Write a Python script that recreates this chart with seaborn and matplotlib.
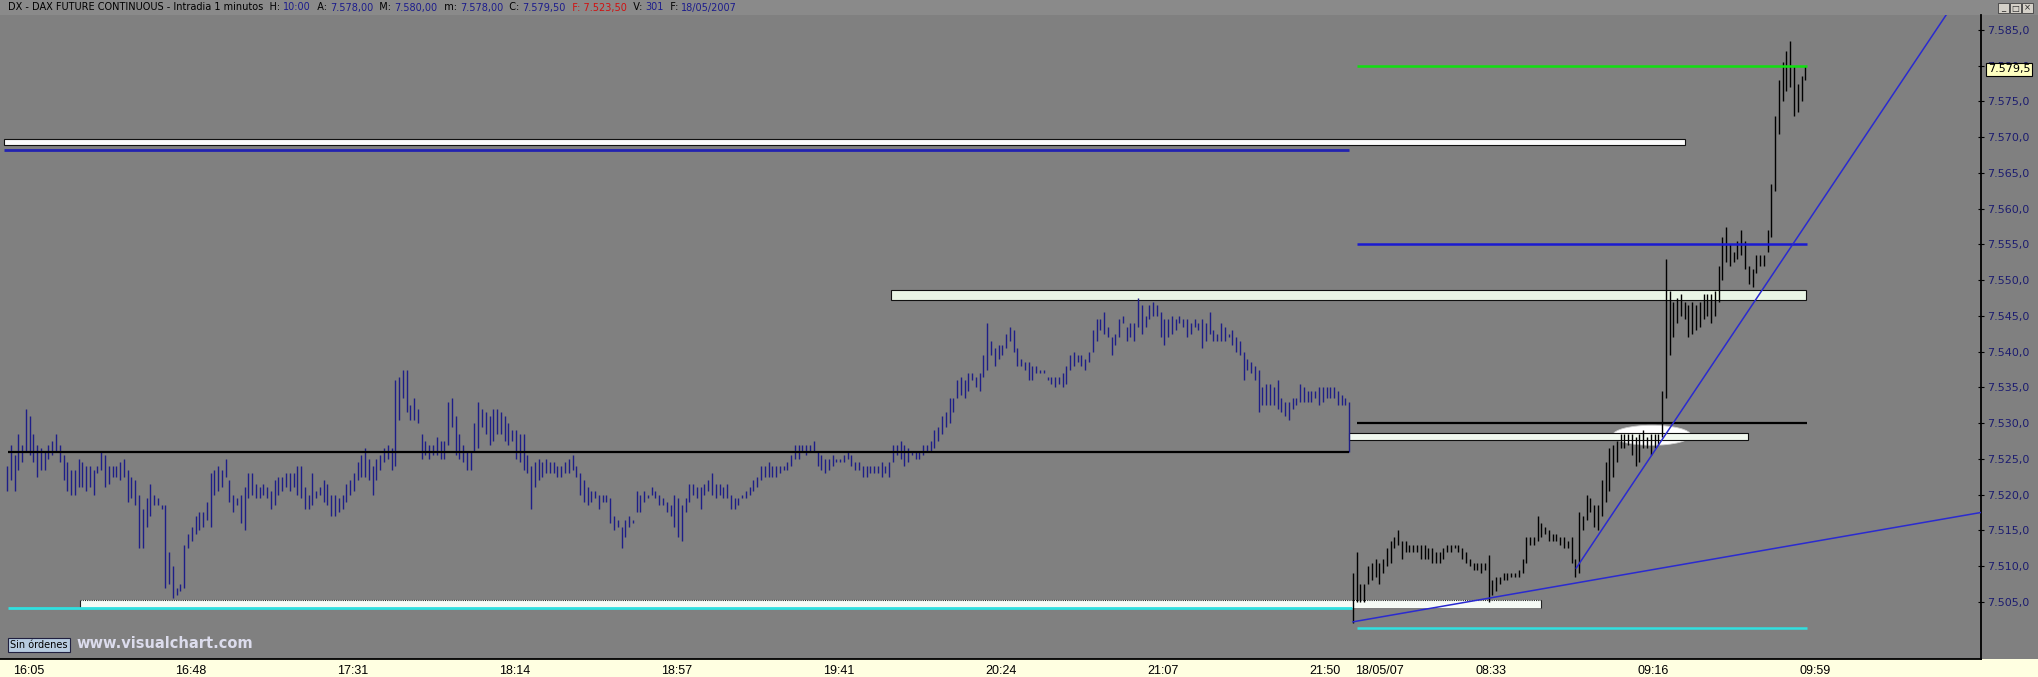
"""
DAX future 1-minute chart (Visual Chart screenshot style)
"""
import matplotlib
matplotlib.use('Agg')
import matplotlib.pyplot as plt
import matplotlib.transforms as mtransforms
from matplotlib.patches import Rectangle, Ellipse
import pandas as pd
import seaborn as sns

# ---- data ----
# session 1 (16:04 - 22:00), one bar per minute
s1_high = [
    7524.0, 7527.0, 7525.5, 7528.5, 7527.0, 7532.0, 7531.0, 7528.5, 7527.0, 7526.5,
    7526.0, 7527.0, 7527.5, 7528.5, 7527.0, 7525.5, 7524.5, 7523.5, 7523.5, 7525.0,
    7524.5, 7524.0, 7524.0, 7523.5, 7524.0, 7526.0, 7525.5, 7524.0, 7524.0, 7524.0,
    7524.5, 7525.0, 7523.5, 7522.5, 7522.0, 7520.0, 7518.0, 7519.5, 7521.5, 7520.0,
    7519.5, 7518.5, 7518.5, 7512.0, 7510.0, 7507.0, 7507.5, 7513.0, 7514.5, 7515.5,
    7517.0, 7517.5, 7517.5, 7519.0, 7523.0, 7523.5, 7524.0, 7523.5, 7525.0, 7522.0,
    7520.0, 7519.5, 7520.0, 7521.0, 7523.0, 7523.0, 7521.5, 7521.0, 7521.5, 7521.0,
    7520.5, 7522.0, 7522.5, 7522.5, 7523.0, 7523.0, 7523.0, 7524.0, 7524.0, 7521.0,
    7520.0, 7523.0, 7520.5, 7521.0, 7522.0, 7521.5, 7520.0, 7520.0, 7519.5, 7520.0,
    7521.5, 7522.0, 7523.0, 7524.5, 7525.5, 7526.5, 7525.0, 7524.0, 7525.0, 7525.5,
    7526.5, 7527.0, 7526.5, 7536.0, 7536.5, 7537.5, 7537.5, 7532.5, 7533.5, 7532.0,
    7528.5, 7527.5, 7527.0, 7527.0, 7528.0, 7527.5, 7527.5, 7533.0, 7533.5, 7531.0,
    7528.5, 7527.0, 7526.0, 7526.0, 7530.0, 7533.0, 7532.0, 7531.5, 7531.0, 7532.0,
    7532.0, 7531.5, 7531.0, 7530.0, 7529.0, 7529.0, 7528.5, 7528.5, 7525.5, 7524.0,
    7524.5, 7525.0, 7524.5, 7525.0, 7524.5, 7524.5, 7524.0, 7524.0, 7524.5, 7525.0,
    7525.5, 7524.0, 7523.0, 7522.0, 7521.0, 7520.5, 7520.5, 7520.0, 7520.0, 7520.0,
    7519.5, 7517.0, 7516.5, 7515.5, 7516.5, 7517.0, 7516.5, 7520.5, 7520.0, 7520.5,
    7520.0, 7521.0, 7520.5, 7520.0, 7519.5, 7519.0, 7518.5, 7520.0, 7519.5, 7518.5,
    7519.5, 7521.5, 7521.5, 7521.0, 7521.0, 7521.5, 7522.0, 7523.0, 7521.5, 7521.5,
    7521.0, 7521.5, 7520.0, 7519.5, 7519.5, 7520.0, 7520.5, 7521.0, 7522.0, 7522.5,
    7524.0, 7524.0, 7524.5, 7524.0, 7524.0, 7524.0, 7524.0, 7524.5, 7525.5, 7527.0,
    7527.0, 7527.0, 7527.0, 7527.0, 7527.5, 7526.0, 7525.5, 7525.0, 7525.0, 7525.5,
    7525.0, 7525.0, 7525.5, 7526.0, 7525.5, 7524.5, 7524.5, 7524.0, 7524.0, 7524.0,
    7524.0, 7524.0, 7524.5, 7524.0, 7524.5, 7527.0, 7527.0, 7527.5, 7527.0, 7526.5,
    7526.0, 7526.0, 7526.0, 7527.0, 7527.0, 7527.5, 7529.0, 7529.5, 7531.0, 7531.5,
    7533.5, 7533.5, 7536.0, 7536.5, 7536.0, 7537.0, 7537.0, 7536.5, 7537.0, 7539.5,
    7544.0, 7541.5, 7540.5, 7541.0, 7541.0, 7542.5, 7543.5, 7543.0, 7540.5, 7539.0,
    7538.5, 7538.5, 7538.0, 7538.0, 7537.5, 7537.5, 7536.5, 7536.5, 7536.5, 7536.5,
    7537.0, 7538.0, 7539.5, 7540.0, 7539.5, 7539.5, 7539.0, 7540.0, 7543.0, 7544.5,
    7544.5, 7545.5, 7543.5, 7542.0, 7542.5, 7544.5, 7545.0, 7543.5, 7544.0, 7544.0,
    7547.5, 7546.5, 7545.0, 7546.5, 7547.0, 7546.5, 7545.5, 7544.5, 7544.5, 7545.0,
    7544.5, 7545.0, 7544.5, 7544.5, 7544.0, 7544.5, 7544.0, 7544.5, 7544.0, 7545.5,
    7543.0, 7542.5, 7544.0, 7543.5, 7542.5, 7543.0, 7542.0, 7541.5, 7540.0, 7539.0,
    7538.5, 7538.0, 7537.5, 7535.0, 7535.5, 7535.5, 7535.0, 7536.0, 7533.5, 7533.0,
    7533.0, 7533.5, 7533.5, 7535.5, 7535.0, 7534.5, 7534.5, 7534.5, 7535.0, 7535.0,
    7535.0, 7535.0, 7535.0, 7534.5, 7534.0, 7533.5, 7533.0,
]
s1_low = [
    7520.5, 7522.0, 7520.5, 7523.5, 7524.5, 7526.0, 7525.5, 7524.5, 7522.5, 7523.5,
    7523.5, 7525.0, 7525.5, 7526.0, 7524.5, 7522.0, 7520.5, 7520.0, 7520.0, 7521.0,
    7521.0, 7520.5, 7521.0, 7520.0, 7523.0, 7523.5, 7521.0, 7521.5, 7522.5, 7522.5,
    7522.0, 7522.5, 7519.0, 7519.5, 7518.5, 7512.5, 7512.5, 7515.5, 7517.0, 7518.5,
    7518.5, 7518.0, 7507.0, 7507.5, 7505.5, 7506.0, 7506.5, 7507.0, 7512.5, 7513.5,
    7514.5, 7515.0, 7515.5, 7516.5, 7515.5, 7520.0, 7520.5, 7521.0, 7522.5, 7519.0,
    7517.5, 7518.5, 7516.0, 7515.0, 7519.5, 7520.0, 7519.5, 7519.5, 7520.0, 7519.5,
    7518.0, 7518.5, 7520.0, 7520.5, 7521.0, 7520.5, 7521.0, 7520.0, 7519.5, 7518.0,
    7518.0, 7518.5, 7519.5, 7520.0, 7519.0, 7518.5, 7517.0, 7517.0, 7517.5, 7518.0,
    7519.0, 7520.0, 7520.5, 7522.0, 7522.5, 7522.5, 7522.0, 7520.0, 7522.0, 7523.5,
    7524.5, 7525.0, 7523.5, 7524.0, 7530.5, 7533.5, 7531.5, 7530.5, 7530.5, 7530.0,
    7525.0, 7525.5, 7525.0, 7525.5, 7525.5, 7525.0, 7525.0, 7527.0, 7529.5, 7525.5,
    7525.0, 7524.5, 7523.5, 7523.5, 7526.0, 7526.5, 7529.5, 7528.5, 7527.0, 7527.5,
    7528.5, 7528.5, 7527.5, 7527.0, 7527.5, 7525.0, 7524.5, 7523.5, 7523.0, 7518.0,
    7521.0, 7522.0, 7522.5, 7523.0, 7523.0, 7523.0, 7522.5, 7522.5, 7523.0, 7523.0,
    7523.5, 7522.5, 7520.0, 7519.0, 7518.5, 7519.0, 7519.5, 7518.0, 7519.0, 7519.0,
    7516.0, 7515.0, 7515.5, 7512.5, 7514.0, 7515.5, 7516.0, 7517.5, 7517.5, 7519.0,
    7519.5, 7520.0, 7519.5, 7518.5, 7518.5, 7517.5, 7517.0, 7515.5, 7514.0, 7513.5,
    7517.5, 7519.0, 7520.0, 7519.5, 7518.0, 7520.0, 7520.5, 7520.0, 7519.5, 7520.0,
    7519.5, 7519.5, 7518.0, 7518.0, 7518.5, 7519.5, 7519.5, 7520.0, 7520.5, 7521.0,
    7522.0, 7522.5, 7522.5, 7522.5, 7522.5, 7523.0, 7523.5, 7523.5, 7524.0, 7525.0,
    7525.0, 7526.0, 7525.5, 7526.0, 7526.0, 7524.0, 7523.5, 7523.0, 7523.5, 7524.0,
    7524.5, 7524.5, 7524.5, 7525.0, 7524.0, 7523.5, 7523.5, 7522.5, 7522.5, 7523.0,
    7523.0, 7523.0, 7522.5, 7523.0, 7522.5, 7524.5, 7525.5, 7525.0, 7524.0, 7524.5,
    7525.5, 7525.0, 7525.0, 7525.5, 7526.0, 7526.0, 7526.5, 7527.5, 7528.5, 7529.5,
    7530.0, 7531.5, 7533.5, 7534.0, 7533.5, 7534.5, 7536.0, 7535.0, 7534.5, 7536.5,
    7537.5, 7539.5, 7538.0, 7539.0, 7539.5, 7540.5, 7541.5, 7540.0, 7538.0, 7538.0,
    7537.5, 7536.0, 7536.0, 7537.0, 7537.0, 7537.0, 7536.0, 7535.5, 7535.0, 7535.5,
    7535.0, 7535.5, 7537.5, 7538.0, 7538.5, 7538.0, 7537.5, 7538.5, 7540.0, 7541.5,
    7543.0, 7542.5, 7542.0, 7539.5, 7541.0, 7542.0, 7544.0, 7541.5, 7542.0, 7541.5,
    7543.5, 7542.5, 7543.5, 7544.5, 7545.0, 7545.0, 7542.0, 7541.0, 7542.0, 7542.5,
    7543.0, 7544.0, 7543.5, 7542.0, 7542.5, 7543.5, 7543.0, 7540.5, 7541.5, 7542.5,
    7541.5, 7541.5, 7541.5, 7541.5, 7542.0, 7541.0, 7540.0, 7539.5, 7536.0, 7537.5,
    7537.0, 7536.0, 7531.5, 7532.5, 7532.5, 7532.5, 7532.5, 7532.0, 7531.5, 7531.0,
    7530.5, 7532.0, 7532.5, 7533.0, 7533.0, 7533.0, 7533.0, 7533.5, 7532.5, 7533.0,
    7533.5, 7533.5, 7533.5, 7532.5, 7532.5, 7532.5, 7526.0,
]
# session 2 (18/05/07, 08:00 - 10:00)
s2_high = [
    7509.0, 7512.0, 7507.5, 7507.5, 7510.0, 7510.5, 7511.0, 7510.5, 7511.0, 7512.5,
    7513.5, 7514.0, 7515.0, 7513.5, 7513.5, 7513.0, 7513.0, 7513.0, 7513.0, 7513.0,
    7512.5, 7512.5, 7512.0, 7512.0, 7512.5, 7513.0, 7513.0, 7513.0, 7513.0, 7512.5,
    7512.0, 7511.0, 7510.5, 7510.5, 7510.5, 7510.5, 7511.5, 7508.0, 7508.5, 7508.5,
    7509.0, 7509.0, 7509.0, 7509.0, 7509.5, 7511.0, 7514.0, 7514.0, 7514.0, 7517.0,
    7516.0, 7515.5, 7515.0, 7514.5, 7514.5, 7514.0, 7514.0, 7513.5, 7514.0, 7511.0,
    7517.5, 7517.0, 7520.0, 7519.5, 7518.5, 7518.5, 7522.0, 7524.5, 7526.5, 7527.0,
    7527.5, 7528.5, 7528.5, 7528.5, 7528.5, 7528.0, 7528.5, 7529.0, 7528.0, 7528.5,
    7528.5, 7528.5, 7534.5, 7553.0, 7548.5, 7547.0, 7547.5, 7548.0, 7547.0, 7546.5,
    7547.0, 7546.5, 7547.0, 7548.0, 7548.0, 7548.0, 7548.5, 7552.0, 7556.0, 7557.5,
    7555.0, 7554.0, 7555.5, 7557.0, 7555.5, 7552.0, 7551.5, 7553.5, 7553.5, 7553.5,
    7557.0, 7563.5, 7573.0, 7578.0, 7580.5, 7582.0, 7583.5, 7580.0, 7577.5, 7578.5,
    7580.0,
]
s2_low = [
    7502.0, 7505.0, 7505.0, 7505.0, 7507.5, 7508.0, 7508.5, 7507.5, 7509.0, 7510.0,
    7510.5, 7512.5, 7513.0, 7511.0, 7512.0, 7512.0, 7512.0, 7512.0, 7511.0, 7511.0,
    7511.0, 7510.5, 7510.5, 7510.5, 7511.0, 7512.0, 7512.0, 7512.5, 7512.0, 7511.0,
    7510.5, 7510.0, 7509.5, 7509.5, 7509.0, 7509.5, 7505.0, 7506.0, 7506.5, 7507.5,
    7508.0, 7508.0, 7508.5, 7508.5, 7508.5, 7509.0, 7510.5, 7513.0, 7513.0, 7513.5,
    7514.0, 7514.5, 7513.5, 7513.5, 7513.5, 7513.0, 7512.5, 7512.5, 7510.5, 7508.5,
    7509.0, 7515.0, 7516.5, 7517.5, 7515.5, 7515.0, 7517.0, 7519.0, 7520.5, 7522.5,
    7524.5, 7526.5, 7526.5, 7527.0, 7525.5, 7524.0, 7524.5, 7526.5, 7526.5, 7525.5,
    7526.5, 7527.0, 7528.0, 7533.5, 7539.5, 7542.0, 7544.0, 7545.0, 7544.5, 7542.0,
    7542.5, 7543.0, 7543.5, 7544.5, 7545.0, 7544.0, 7545.0, 7547.0, 7550.0, 7552.5,
    7552.0, 7552.5, 7553.0, 7553.5, 7551.5, 7549.5, 7549.0, 7551.0, 7552.0, 7552.0,
    7554.0, 7556.0, 7562.5, 7570.5, 7575.0, 7576.5, 7577.0, 7573.0, 7573.5, 7575.0,
    7578.0,
]

# time axis (bar index -> label)
tick_pos = [1, 44, 87, 130, 173, 216, 259, 302, 345, 357, 389, 432, 475, 518]
tick_labels = ['16:05', '16:48', '17:31', '18:14', '18:57', '19:41', '20:24',
               '21:07', '21:50', '18/05/07', '08:33', '09:16', '09:59', '']
price_ticks = [7505, 7510, 7515, 7520, 7525, 7530, 7535, 7540, 7545,
               7550, 7555, 7560, 7565, 7570, 7575, 7580, 7585]
last_price = 7579.5

# drawn support / resistance levels: price, first bar, last bar
level_price = [7568.2, 7526.0, 7504.1, 7580.0, 7555.0, 7530.0, 7501.4]
level_from = [-0.8, 0.3, 0.3, 358.1, 358.1, 358.1, 358.1]
level_to = [356.0, 356.0, 356.8, 477.5, 477.5, 477.5, 477.5]

# drawn zones (rectangles): low, high, first bar, last bar
zone_low = [7568.9, 7547.2, 7527.6, 7504.2]
zone_high = [7569.7, 7548.6, 7528.6, 7505.2]
zone_from = [-0.8, 234.5, 356.0, 19.4]
zone_to = [445.1, 477.2, 461.8, 406.9]

# trend lines (bar, price) end points
trend_id = ['t1', 't1', 't2', 't2']
trend_bar = [357.0, 523.6, 416.2, 514.6]
trend_price = [7502.2, 7517.5, 7509.7, 7587.3]

header_parts = [
    ('DX - DAX FUTURE CONTINUOUS - Intradia 1 minutos  H: ', 'black'),
    ('10:00', '#1c1c8c'), ('  A: ', 'black'), ('7.578,00', '#1c1c8c'),
    ('  M: ', 'black'), ('7.580,00', '#1c1c8c'), ('  m: ', 'black'),
    ('7.578,00', '#1c1c8c'), ('  C: ', 'black'), ('7.579,50', '#1c1c8c'),
    ('  F: 7.523,50', '#d01010'), ('  V: ', 'black'), ('301', '#1c1c8c'),
    ('  F: ', 'black'), ('18/05/2007', '#1c1c8c'),
]


def es_fmt(v):
    s = f"{v:,.1f}"
    return s.replace(',', 'X').replace('.', ',').replace('X', '.')


sns.set_theme(style='white')
plt.rcParams['font.family'] = ['DejaVu Sans']

W, H = 2038, 677
fig = plt.figure(figsize=(W / 100, H / 100), dpi=100)
fig.patch.set_facecolor('#808080')

# header strip and bottom time strip
fig.add_artist(Rectangle((0, 1 - 15 / H), 1, 15 / H, transform=fig.transFigure,
                         facecolor='#8a8a8a', edgecolor='none', zorder=0))
fig.add_artist(Rectangle((0, 0), 1, 18 / H, transform=fig.transFigure,
                         facecolor='#ffffe1', edgecolor='none', zorder=0))

ax = fig.add_axes([0, 18 / H, 1981 / W, (659 - 15) / H])
ax.set_facecolor('#808080')
ax.set_xlim(-1.86, 523.6)
ax.set_ylim(7497.0, 7587.1)

# zones
zone_fill = ['#fbfbfb', '#eaf6e6', '#f2f9f0', '#f6fbf6']
for i in range(len(zone_low)):
    ax.add_patch(Rectangle((zone_from[i], zone_low[i]), zone_to[i] - zone_from[i],
                           zone_high[i] - zone_low[i], facecolor=zone_fill[i],
                           edgecolor='#101010' if i < 3 else 'none', lw=0.8, zorder=2))
# dotted top of the lowest zone
ax.hlines(zone_high[3], zone_from[3], zone_to[3], color='#202020', lw=0.8,
          linestyles=(0, (1, 1)), zorder=2.1)
ax.vlines([zone_from[3], zone_to[3]], zone_low[3], zone_high[3], color='#202020', lw=0.8, zorder=2.1)

# highlight ellipse around the breakout
ax.add_patch(Ellipse((436.3, 7528.3), 20.7, 2.8, facecolor='white',
                     edgecolor='#d0d0d0', lw=0.6, zorder=1.8))

# price bars
x1 = list(range(len(s1_high)))
x2 = list(range(len(s1_high), len(s1_high) + len(s2_high)))
ax.vlines(x1, s1_low, s1_high, color='#1e1e88', lw=1.0, zorder=3)
ax.vlines(x2, s2_low, s2_high, color='black', lw=1.0, zorder=3)

# horizontal levels
level_color = ['#2222b0', 'black', '#30e0e0', '#10e010', '#1a1ad0', 'black', '#30e0e0']
level_lw = [2.0, 1.6, 2.0, 1.8, 1.8, 1.6, 1.8]
for i in range(len(level_price)):
    ax.hlines(level_price[i], level_from[i], level_to[i], color=level_color[i],
              lw=level_lw[i], zorder=4)

# trend lines
trend_df = pd.DataFrame({'line': trend_id, 'bar': trend_bar, 'price': trend_price})
sns.lineplot(data=trend_df, x='bar', y='price', units='line', estimator=None,
             color='#2a2ad0', lw=1.1, ax=ax, zorder=5)

# axes styling
for s in ['left', 'top']:
    ax.spines[s].set_visible(False)
for s in ['right', 'bottom']:
    ax.spines[s].set_color('black')
    ax.spines[s].set_linewidth(1.3)
ax.set_xlabel('')
ax.set_ylabel('')

ax.yaxis.tick_right()
ax.set_yticks(price_ticks)
ax.set_yticklabels([es_fmt(p) for p in price_ticks])
ax.tick_params(axis='y', direction='inout', length=5, width=0.8, color='black',
               pad=2, labelsize=8, labelcolor='#1c1c70')

ax.set_xticks(tick_pos)
ax.set_xticklabels(tick_labels)
ax.tick_params(axis='x', direction='inout', length=7, width=0.8, color='black',
               pad=1, labelsize=9, labelcolor='black')
shift = mtransforms.ScaledTranslation(1.5 / 72, 0, fig.dpi_scale_trans)
for lbl in ax.get_xticklabels():
    lbl.set_horizontalalignment('left')
    lbl.set_fontfamily(['Liberation Sans Narrow', 'Liberation Sans', 'DejaVu Sans'])
    lbl.set_transform(lbl.get_transform() + shift)

# last price box on the price scale
ax.text(1.0035, last_price, es_fmt(last_price),
        transform=mtransforms.blended_transform_factory(ax.transAxes, ax.transData),
        ha='left', va='center', fontsize=8, color='black', zorder=10, clip_on=False,
        bbox=dict(boxstyle='square,pad=0.15', facecolor='#ffffc0', edgecolor='black', lw=0.8))

# header text, pieces in their own colours
renderer = fig.canvas.get_renderer()
xpos = 8
for txt, col in header_parts:
    t = fig.text(xpos / W, 1 - 7.5 / H, txt, fontsize=7, color=col, ha='left', va='center')
    bb = t.get_window_extent(renderer=renderer)
    xpos = bb.x1

# window buttons
for j, sym in enumerate(['_', '□', '×']):
    x0 = 1998 + j * 12
    fig.add_artist(Rectangle((x0 / W, 1 - 13 / H), 11 / W, 10 / H, transform=fig.transFigure,
                             facecolor='#d4d0c8', edgecolor='#404040', lw=0.6, zorder=5))
    fig.text((x0 + 5.5) / W, 1 - 8 / H, sym, fontsize=6, ha='center', va='center', zorder=6)

# bottom-left stamps
fig.text(10 / W, 1 - 645 / H, 'Sin órdenes', fontsize=7, color='black', ha='left', va='center',
         bbox=dict(boxstyle='square,pad=0.25', facecolor='#b8cce0', edgecolor='#202040', lw=0.8))
fig.text(76 / W, 1 - 644 / H, 'www.visualchart.com', fontsize=10.5, fontweight='bold',
         color='#dcdcec', ha='left', va='center')

fig.savefig('out.png', dpi=100, facecolor=fig.get_facecolor())
